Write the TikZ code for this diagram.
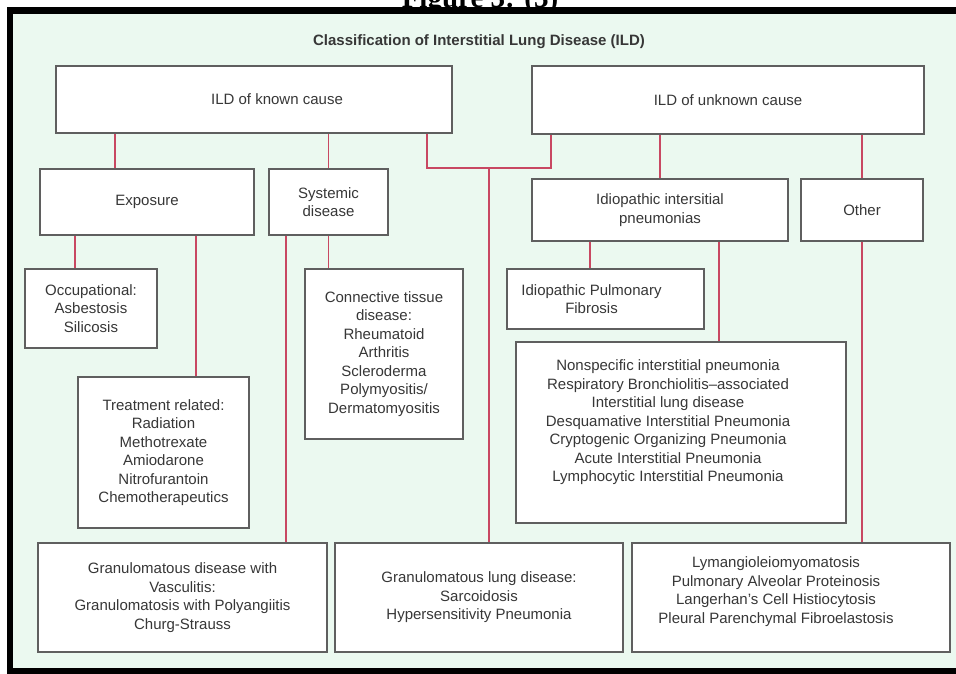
\documentclass[tikz,border=0pt]{standalone}
\usepackage{fontspec}
\setmainfont{Liberation Sans}
\newfontfamily\capfont{Liberation Serif}
\definecolor{mint}{RGB}{235,249,240}
\definecolor{linkred}{RGB}{200,72,98}
\definecolor{boxgray}{RGB}{95,95,95}
\definecolor{txtgray}{RGB}{55,55,55}

\begin{document}
\begin{tikzpicture}
  [x=1pt, y=-1pt,
  boxnode/.style={draw=boxgray, fill=white, line width=1.3pt, inner sep=0pt, align=center, text=txtgray, font=\fontsize{15}{18.5}\selectfont},
  plaintext/.style={align=center, text=txtgray, font=\fontsize{15}{18.5}\selectfont},
  redline/.style={draw=linkred, line width=1.8pt},]

  \useasboundingbox (0,0) rectangle (956,673);
  \node[font=\capfont\bfseries\fontsize{29}{30}\selectfont, anchor=base] (figcap) at (480,7) {Figure 3: (3)};
  \fill[black] (7,7) rectangle (970,690);
  \fill[mint] (13,14) rectangle (970,668);

  \node[font=\bfseries\fontsize{15}{18}\selectfont, text=txtgray] (title) at (479,42) {Classification of Interstitial Lung Disease (ILD)};

  \node[boxnode, minimum width=396, minimum height=67, label={[plaintext,xshift=23pt]center:ILD of known cause}] (known) at (254,99.5) {};
  \node[boxnode, minimum width=392, minimum height=68] (unknown) at (728,100) {ILD of unknown cause};

  \node[boxnode, minimum width=214, minimum height=66] (expo) at (147,202) {Exposure};
  \node[boxnode, minimum width=119, minimum height=66] (sys) at (328.5,202) {Systemic\\disease};
  \node[boxnode, minimum width=256, minimum height=62] (iip) at (660,210) {Idiopathic intersitial\\pneumonias};
  \node[boxnode, minimum width=122, minimum height=62] (other) at (862,210) {Other};

  \node[boxnode, minimum width=132, minimum height=79] (occ) at (91,308.5) {Occupational:\\Asbestosis\\Silicosis};
  \node[boxnode, minimum width=158, minimum height=170] (ctd) at (384,354) {Connective tissue\\disease:\\Rheumatoid\\Arthritis\\Scleroderma\\Polymyositis/\\Dermatomyositis};
  \node[boxnode, minimum width=197, minimum height=60, label={[plaintext,xshift=-14pt]center:Idiopathic Pulmonary\\Fibrosis}] (ipf) at (605.5,299) {};
  \node[boxnode, minimum width=171, minimum height=151] (treat) at (163.5,452.5) {Treatment related:\\Radiation\\Methotrexate\\Amiodarone\\Nitrofurantoin\\Chemotherapeutics};
  \node[boxnode, minimum width=330, minimum height=181, label={[plaintext,xshift=-13pt,yshift=10pt]center:{Nonspecific interstitial pneumonia\\Respiratory Bronchiolitis--associated\\Interstitial lung disease\\Desquamative Interstitial Pneumonia\\Cryptogenic Organizing Pneumonia\\Acute Interstitial Pneumonia\\Lymphocytic Interstitial Pneumonia}}] (nsip) at (681,432.5) {};

  \node[boxnode, minimum width=289, minimum height=109] (granv) at (182.5,597.5) {Granulomatous disease with\\Vasculitis:\\Granulomatosis with Polyangiitis\\Churg-Strauss};
  \node[boxnode, minimum width=288, minimum height=109] (granl) at (479,597.5) {Granulomatous lung disease:\\Sarcoidosis\\Hypersensitivity Pneumonia};
  \node[boxnode, minimum width=318, minimum height=109, label={[plaintext,xshift=-15pt,yshift=6pt]center:{Lymangioleiomyomatosis\\Pulmonary Alveolar Proteinosis\\Langerhan's Cell Histiocytosis\\Pleural Parenchymal Fibroelastosis}}] (misc) at (791,597.5) {};

  \coordinate (fork) at (489,168);

  \draw[redline] ([xshift=-32pt]expo.north) -- ([xshift=-139pt]known.south);
  \draw[redline] (sys.north) -- (sys.north |- known.south);
  \draw[redline] ([xshift=-26pt]known.south east) |- (fork) -| ([xshift=20pt]unknown.south west);
  \draw[redline] (fork) -- ([xshift=10pt]granl.north);
  \draw[redline] (iip.north) -- (iip.north |- unknown.south);
  \draw[redline] (other.north) -- (other.north |- unknown.south);

  \draw[redline] ([xshift=-16pt]occ.north) -- ([xshift=-72pt]expo.south);
  \draw[redline] ([xshift=49pt]expo.south) -- ([xshift=32.5pt]treat.north);
  \draw[redline] ([xshift=-42.5pt]sys.south) -- ([xshift=103.5pt]granv.north);
  \draw[redline] (sys.south) -- (sys.south |- ctd.north);
  \draw[redline] ([xshift=-70pt]iip.south) -- ([xshift=-15.5pt]ipf.north);
  \draw[redline] ([xshift=59pt]iip.south) -- ([xshift=38pt]nsip.north);
  \draw[redline] (other.south) -- (other.south |- misc.north);

\end{tikzpicture}
\end{document}
